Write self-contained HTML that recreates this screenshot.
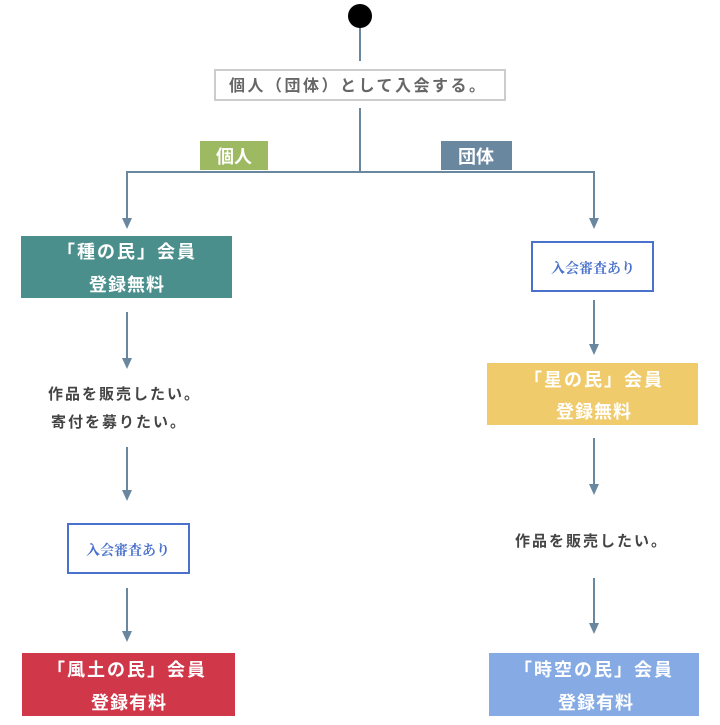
<!DOCTYPE html>
<html><head><meta charset="utf-8"><style>
html,body{margin:0;padding:0;background:#fff;}
svg text{font-family:"Liberation Sans","Noto Sans CJK JP",sans-serif;font-weight:bold;}
</style></head><body>
<svg width="720" height="720" viewBox="0 0 720 720" xmlns="http://www.w3.org/2000/svg">
<g stroke="#6a87a0" stroke-width="2" fill="none">
<line x1="360" y1="26" x2="360" y2="61"/>
<line x1="360" y1="108" x2="360" y2="172"/>
<polyline points="127,220 127,172 594,172 594,220"/>
<line x1="594" y1="300" x2="594" y2="346"/>
<line x1="127" y1="312" x2="127" y2="360"/>
<line x1="594" y1="438" x2="594" y2="486"/>
<line x1="127" y1="447" x2="127" y2="492"/>
<line x1="594" y1="578" x2="594" y2="625"/>
<line x1="127" y1="588" x2="127" y2="633"/>
</g>
<g fill="#6a87a0">
<path d="M122,218 L132,218 L127,229 z"/>
<path d="M589,218 L599,218 L594,229 z"/>
<path d="M589,344 L599,344 L594,355 z"/>
<path d="M122,358 L132,358 L127,369 z"/>
<path d="M589,484 L599,484 L594,495 z"/>
<path d="M122,490 L132,490 L127,501 z"/>
<path d="M589,623 L599,623 L594,634 z"/>
<path d="M122,631 L132,631 L127,642 z"/>
</g>
<circle cx="360" cy="16" r="12" fill="#000"/>
<rect x="215" y="70" width="290" height="30" fill="#fff" stroke="#ccc" stroke-width="2"/>
<text x="229" y="91" font-size="16" fill="#666" letter-spacing="2.5">個人（団体）として入会する。</text>
<rect x="200" y="141" width="68" height="29" fill="#9dba62"/>
<text x="234" y="163" font-size="18" fill="#fff" text-anchor="middle">個人</text>
<rect x="441" y="141" width="71" height="29" fill="#6a87a0"/>
<text x="476" y="163" font-size="18" fill="#fff" text-anchor="middle">団体</text>
<rect x="21" y="236" width="211" height="62" fill="#4a8f8c"/>
<text x="127" y="258" font-size="18" fill="#fff" text-anchor="middle" letter-spacing="2">「種の民」会員</text>
<text x="127" y="291" font-size="18" fill="#fff" text-anchor="middle" letter-spacing="1">登録無料</text>
<rect x="532" y="242" width="121" height="49" fill="#fff" stroke="#4a72cc" stroke-width="2"/>
<text x="593" y="273" font-size="14" fill="#4a72cc" text-anchor="middle" style="font-family:'Liberation Serif','Noto Serif CJK SC',serif">入会審査あり</text>
<rect x="487" y="363" width="211" height="62" fill="#f0cb6c"/>
<text x="594" y="386" font-size="18" fill="#fff" text-anchor="middle" letter-spacing="2">「星の民」会員</text>
<text x="594" y="418" font-size="18" fill="#fff" text-anchor="middle" letter-spacing="1">登録無料</text>
<text x="48" y="399" font-size="15" fill="#444" letter-spacing="2">作品を販売したい。</text>
<text x="51" y="427" font-size="15" fill="#444" letter-spacing="2">寄付を募りたい。</text>
<rect x="68" y="524" width="121" height="49" fill="#fff" stroke="#4a72cc" stroke-width="2"/>
<text x="128" y="555" font-size="14" fill="#4a72cc" text-anchor="middle" style="font-family:'Liberation Serif','Noto Serif CJK SC',serif">入会審査あり</text>
<text x="515" y="546" font-size="15" fill="#444" letter-spacing="2">作品を販売したい。</text>
<rect x="22" y="653" width="213" height="63" fill="#d0384a"/>
<text x="127" y="676" font-size="18" fill="#fff" text-anchor="middle" letter-spacing="2">「風土の民」会員</text>
<text x="129" y="709" font-size="18" fill="#fff" text-anchor="middle" letter-spacing="1">登録有料</text>
<rect x="489" y="653" width="210" height="63" fill="#86aae4"/>
<text x="594" y="676" font-size="18" fill="#fff" text-anchor="middle" letter-spacing="2">「時空の民」会員</text>
<text x="596" y="709" font-size="18" fill="#fff" text-anchor="middle" letter-spacing="1">登録有料</text>
</svg>
</body></html>
